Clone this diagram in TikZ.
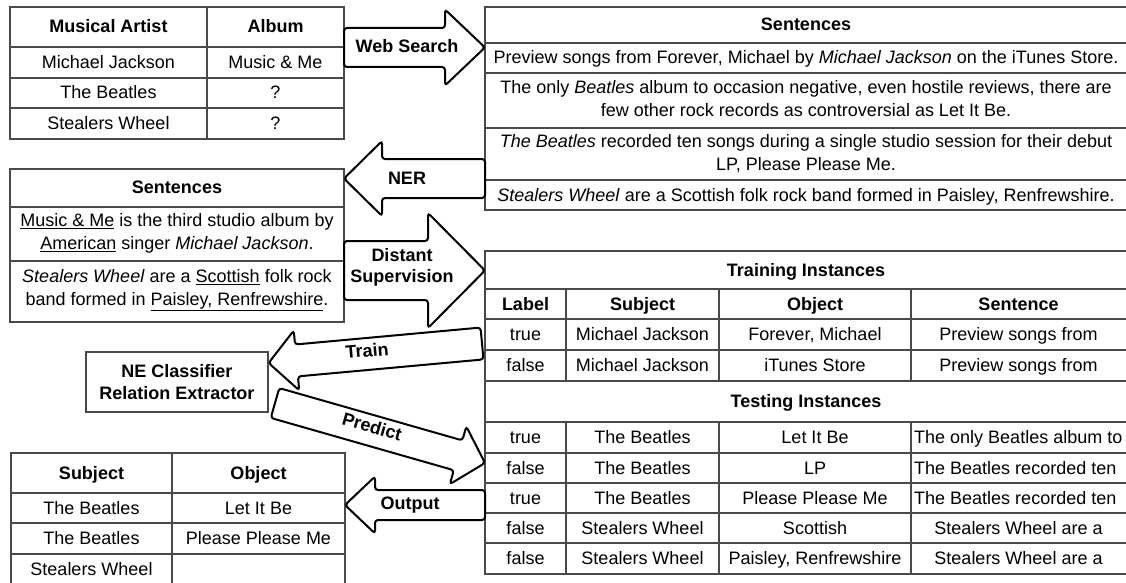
\documentclass[tikz,border=0pt]{standalone}
\usepackage{fontspec}
\setmainfont{Liberation Sans}
\usepackage{xcolor}
\usetikzlibrary{calc,positioning}
\definecolor{tablegray}{HTML}{4A4A4A}

\tikzset{
  table frame/.style={
    draw = tablegray,
    line width = 1.2pt,
    inner sep = 0pt,
    outer sep = 0pt,
    anchor = north west,
  },
  table line/.style={
    draw = tablegray,
    line width = 1.2pt,
  },
  cell text/.style={
    font = \fontsize{18}{23}\selectfont,
    inner sep = 0pt,
    text height = 12pt,
    text depth = 0pt,
  },
  head text/.style={
    cell text,
    font = \fontsize{18}{23}\selectfont\bfseries,
  },
  multi text/.style={
    font = \fontsize{18}{23}\selectfont,
    inner sep = 0pt,
    align = center,
  },
  arrow text/.style={
    font = \fontsize{18}{21}\selectfont\bfseries,
    inner sep = 0pt,
    align = center,
  },
  learner box/.style={
    draw = tablegray,
    line width = 1.2pt,
    font = \fontsize{18}{22}\selectfont\bfseries,
    align = center,
  },
  block arrow/.style={
    draw = black,
    line width = 2pt,
    fill = white,
    rounded corners = 3pt,
  },
}

% block arrow: tail, tip, shaft half width, head half width, head length
\newcommand{\blockarrow}[5]{%
  \path ($(#2)!#5!(#1)$) coordinate (base);
  \draw[block arrow] ($(#1)!#3!90:(#2)$) -- ($(base)!#3!90:(#2)$)
    -- ($(base)!#4!90:(#2)$) -- (#2) -- ($(base)!#4!-90:(#2)$)
    -- ($(base)!#3!-90:(#2)$) -- ($(#1)!#3!-90:(#2)$) -- cycle;
}

\begin{document}
\begin{tikzpicture}[x=1pt, y=1pt]
  \useasboundingbox (0,0) rectangle (1126,-583);
  \clip (0,0) rectangle (1126,-583);

  % artists and albums
  \node[table frame, minimum width=334pt, minimum height=132pt] (artists) at (10,-7) {};
  \draw[table line] (207,-7) -- (207,-139);
  \foreach \y in {47,78,108} \draw[table line] (10,-\y) -- (344,-\y);
  \node[head text] (artistHead) at (108.5,-27) {Musical Artist};
  \node[head text] (albumHead) at (275.5,-27) {Album};
  \foreach \a/\b/\y [count=\i] in {Michael Jackson/Music \& Me/62.5, The Beatles/?/93, Stealers Wheel/?/123.5} {
    \node[cell text] (artist\i) at (108.5,-\y) {\a};
    \node[cell text] (album\i) at (275.5,-\y) {\b};
  }

  % sentences from the web
  \node[table frame, minimum width=645pt, minimum height=203pt] (webSents) at (485,-7) {};
  \foreach \y in {43,73,128,180} \draw[table line] (485,-\y) -- (1130,-\y);
  \node[head text] (webHead) at (806,-25) {Sentences};
  \node[cell text] (web1) at (806,-58) {Preview songs from Forever, Michael by \textit{Michael Jackson} on the iTunes Store.};
  \node[multi text] (web2) at (806,-99) {The only \textit{Beatles} album to occasion negative, even hostile reviews, there are\\few other rock records as controversial as Let It Be.};
  \node[multi text] (web3) at (806,-154) {\textit{The Beatles} recorded ten songs during a single studio session for their debut\\LP, Please Please Me.};
  \node[cell text] (web4) at (806,-195) {\textit{Stealers Wheel} are a Scottish folk rock band formed in Paisley, Renfrewshire.};

  % tagged sentences
  \node[table frame, minimum width=334pt, minimum height=153pt] (nerSents) at (10,-169) {};
  \foreach \y in {207,261} \draw[table line] (10,-\y) -- (344,-\y);
  \node[head text] (nerHead) at (177,-187) {Sentences};
  \node[multi text] (ner1) at (177,-233) {\underline{Music \& Me} is the third studio album by\\\underline{American} singer \textit{Michael Jackson}.};
  \node[multi text] (ner2) at (177,-290) {\textit{Stealers Wheel} are a \underline{Scottish} folk rock\\band formed in \underline{Paisley, Renfrewshire}.};

  \node[learner box, minimum width=182pt, minimum height=60pt] (learner) at (177,-382) {NE Classifier\\Relation Extractor};

  % training and testing instances
  \node[table frame, minimum width=645pt, minimum height=323pt] (instances) at (485,-251) {};
  \foreach \y in {289,319,350,381,422,453,483,513,543} \draw[table line] (485,-\y) -- (1130,-\y);
  \foreach \x in {566,719,911} {
    \draw[table line] (\x,-289) -- (\x,-381);
    \draw[table line] (\x,-422) -- (\x,-574);
  }
  \node[head text] (trainHead) at (806,-270) {Training Instances};
  \foreach \t/\x [count=\i] in {Label/525.5, Subject/642.5, Object/815, Sentence/1018.5}
    \node[head text] (col\i) at (\x,-304) {\t};
  \foreach \l/\s/\o/\y [count=\i] in {true/Michael Jackson/{Forever, Michael}/334.5, false/Michael Jackson/iTunes Store/365.5} {
    \node[cell text] (trainLabel\i) at (525.5,-\y) {\l};
    \node[cell text] (trainSubj\i) at (642.5,-\y) {\s};
    \node[cell text] (trainObj\i) at (815,-\y) {\o};
    \node[cell text] (trainSent\i) at (1018.5,-\y) {Preview songs from};
  }
  \node[head text] (testHead) at (806,-401) {Testing Instances};
  \foreach \l/\s/\o/\sent/\sx/\sa/\y [count=\i] in {
      true/The Beatles/Let It Be/The only Beatles album to/914/west/437.5,
      false/The Beatles/LP/The Beatles recorded ten/914/west/468,
      true/The Beatles/Please Please Me/The Beatles recorded ten/914/west/498,
      false/Stealers Wheel/Scottish/Stealers Wheel are a/1018.5/center/528,
      false/Stealers Wheel/{Paisley, Renfrewshire}/Stealers Wheel are a/1018.5/center/558.5} {
    \node[cell text] (testLabel\i) at (525.5,-\y) {\l};
    \node[cell text] (testSubj\i) at (642.5,-\y) {\s};
    \node[cell text] (testObj\i) at (815,-\y) {\o};
    \node[cell text, anchor=\sa] (testSent\i) at (\sx,-\y) {\sent};
  }

  % extracted output
  \node[table frame, minimum width=334pt, minimum height=135pt] (output) at (11,-453) {};
  \draw[table line] (172,-453) -- (172,-588);
  \foreach \y in {493,523,554} \draw[table line] (11,-\y) -- (345,-\y);
  \node[head text] (subjHead) at (91.5,-473) {Subject};
  \node[head text] (objHead) at (258.5,-473) {Object};
  \foreach \s/\o/\y [count=\i] in {The Beatles/Let It Be/508, The Beatles/Please Please Me/538.5} {
    \node[cell text] (outSubj\i) at (91.5,-\y) {\s};
    \node[cell text] (outObj\i) at (258.5,-\y) {\o};
  }
  \node[cell text] (outSubj3) at (91.5,-569) {Stealers Wheel};

  % arrow ends
  \coordinate (wsTail) at (artists.east |- 0,-47.5);
  \coordinate (wsTip) at (webSents.west |- wsTail);
  \coordinate (nerTail) at (webSents.west |- 0,-178.5);
  \coordinate (nerTip) at (nerSents.east |- nerTail);
  \coordinate (dsTail) at (nerSents.east |- 0,-270.5);
  \coordinate (dsTip) at (instances.west |- dsTail);
  \coordinate (trainTail) at (482,-343.5);
  \coordinate (trainTip) at (learner.east |- 0,-363);
  \coordinate (predTail) at (275,-403);
  \coordinate (predTip) at (instances.west |- 0,-463);
  \coordinate (outTail) at (instances.west |- 0,-505);
  \coordinate (outTip) at (output.east |- outTail);

  \blockarrow{wsTail}{wsTip}{19.5pt}{38pt}{40pt}
  \blockarrow{nerTail}{nerTip}{19.5pt}{37.5pt}{38pt}
  \blockarrow{dsTail}{dsTip}{29.5pt}{57.5pt}{57pt}
  \blockarrow{trainTail}{trainTip}{16pt}{30pt}{28pt}
  \blockarrow{predTail}{predTip}{15.5pt}{30pt}{28pt}
  \blockarrow{outTail}{outTip}{15pt}{28.5pt}{30pt}

  \node[head text] (wsLabel) at (407,-47) {Web Search};
  \node[head text] (nerLabel) at (407,-178) {NER};
  \node[arrow text] (dsLabel) at (402,-267.5) {Distant\\Supervision};
  \node[head text, rotate=5] (trainLabel) at (367,-351) {Train};
  \node[head text, rotate=-16] (predLabel) at (372,-427) {Predict};
  \node[head text] (outLabel) at (410,-503) {Output};
\end{tikzpicture}
\end{document}
